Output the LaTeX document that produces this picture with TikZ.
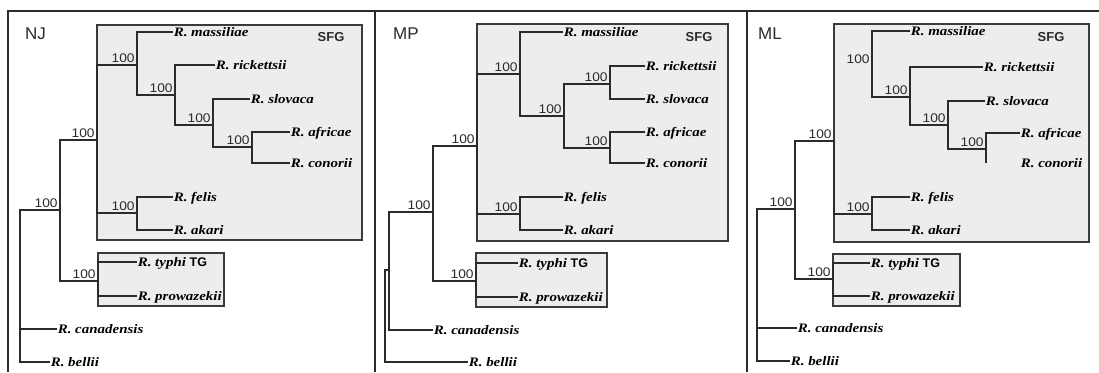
\documentclass[tikz,border=0pt]{standalone}
\usepackage{fontspec}
\setmainfont{Liberation Serif}
\newfontfamily\taxfam[FakeStretch=1.15]{Liberation Serif}
\newfontfamily\sansfam{Liberation Sans}
\newfontfamily\numfam[FakeStretch=1.1]{Liberation Sans}
\definecolor{ln}{HTML}{2B2B2B}
\definecolor{boxfill}{HTML}{EDEDED}
\definecolor{boxline}{HTML}{3A3A3A}
\newcommand{\tgmark}{{\sansfam\upshape\bfseries\fontsize{12.5}{14}\selectfont TG}}
\begin{document}
\begin{tikzpicture}[x=1pt,y=-1pt,
 br/.style={draw=ln, line width=1.1pt},
 frame/.style={draw=ln, line width=1.5pt},
 clade/.style={draw=boxline, fill=boxfill, line width=1.4pt},
 tip/.style={anchor=west, inner sep=0.6pt, font=\taxfam\bfseries\itshape\fontsize{13}{15}\selectfont, text height=8.6pt, text depth=0pt, text=black},
 bs/.style={anchor=south east, inner sep=2.2pt, font=\numfam\fontsize{12.5}{14}\selectfont, text depth=0pt, text=ln},
 meth/.style={anchor=west, inner sep=0pt, font=\sansfam\fontsize{17}{19}\selectfont, text height=12.2pt, text depth=0pt, text=ln},
 grp/.style={anchor=center, inner sep=0pt, font=\sansfam\bfseries\fontsize{13}{15}\selectfont, text height=9.3pt, text depth=0pt, text=ln}]
\useasboundingbox (0,0) rectangle (1099,372);
\fill[white] (0,0) rectangle (1099,372);
% frame
\draw[frame] (8,372) -- (8,11) -- (1099,11);
\draw[frame] (375,11) -- (375,372);
\draw[frame] (747,11) -- (747,372);

% ================= NJ =================
\draw[clade] (97,25) rectangle (362,240);
\draw[clade] (98,253) rectangle (224,306);
\node[meth] (njlab) at (25,33) {NJ};
\node[grp] (njsfg) at (331,37) {SFG};
\node[tip] (njmas) at (173,32) {R. massiliae};
\node[tip] (njric) at (215,65) {R. rickettsii};
\node[tip] (njslo) at (250,99) {R. slovaca};
\node[tip] (njafr) at (290,132) {R. africae};
\node[tip] (njcon) at (290,163) {R. conorii};
\node[tip] (njfel) at (173,197) {R. felis};
\node[tip] (njaka) at (173,230) {R. akari};
\node[tip] (njtyp) at (137,262) {R. typhi \tgmark};
\node[tip] (njpro) at (137,296) {R. prowazekii};
\node[tip] (njcan) at (57,329) {R. canadensis};
\node[tip] (njbel) at (50,362) {R. bellii};
\coordinate (njr) at (20,300);
\coordinate (nja) at (60,210);
\coordinate (njsf) at (97,140);
\coordinate (njb) at (137,65);
\coordinate (njc) at (175,95);
\coordinate (njd) at (213,125);
\coordinate (nje) at (252,147);
\coordinate (njf) at (137,213);
\coordinate (njtg) at (98,281);
\draw[br] (nja) -| (njr) |- (njbel.west);
\draw[br] (njr |- njcan.west) -- (njcan.west);
\draw[br] (njsf) -| (nja) |- (njtg);
\draw[br] (njb) -| (njsf) |- (njf);
\draw[br] (njmas.west) -| (njb) |- (njc);
\draw[br] (njric.west) -| (njc) |- (njd);
\draw[br] (njslo.west) -| (njd) |- (nje);
\draw[br] (njafr.west) -| (nje) |- (njcon.west);
\draw[br] (njfel.west) -| (njf) |- (njaka.west);
\draw[br] (njtyp.west) -| (njtg) |- (njpro.west);
\foreach \n in {nja,njsf,njb,njc,njd,nje,njf,njtg}
  \node[bs] (\n-bs) at (\n) {100};

% ================= MP =================
\draw[clade] (477,24) rectangle (728,241);
\draw[clade] (476,253) rectangle (607,307);
\node[meth] (mplab) at (393,33) {MP};
\node[grp] (mpsfg) at (699,37) {SFG};
\node[tip] (mpmas) at (563,32) {R. massiliae};
\node[tip] (mpric) at (645,66) {R. rickettsii};
\node[tip] (mpslo) at (645,99) {R. slovaca};
\node[tip] (mpafr) at (645,132) {R. africae};
\node[tip] (mpcon) at (645,163) {R. conorii};
\node[tip] (mpfel) at (563,197) {R. felis};
\node[tip] (mpaka) at (563,230) {R. akari};
\node[tip] (mptyp) at (518,263) {R. typhi \tgmark};
\node[tip] (mppro) at (518,297) {R. prowazekii};
\node[tip] (mpcan) at (433,330) {R. canadensis};
\node[tip] (mpbel) at (468,362) {R. bellii};
\coordinate (mpr) at (385,300);
\coordinate (mpa) at (389,270);
\coordinate (mpb) at (433,212);
\coordinate (mpsf) at (477,146);
\coordinate (mpc) at (520,74);
\coordinate (mpd) at (564,116);
\coordinate (mpe) at (610,84);
\coordinate (mpf) at (610,148);
\coordinate (mpg) at (520,214);
\coordinate (mptg) at (476,281);
\draw[br] (mpa) -| (mpr) |- (mpbel.west);
\draw[br] (mpb) -| (mpa) |- (mpcan.west);
\draw[br] (mpsf) -| (mpb) |- (mptg);
\draw[br] (mpc) -| (mpsf) |- (mpg);
\draw[br] (mpmas.west) -| (mpc) |- (mpd);
\draw[br] (mpe) -| (mpd) |- (mpf);
\draw[br] (mpric.west) -| (mpe) |- (mpslo.west);
\draw[br] (mpafr.west) -| (mpf) |- (mpcon.west);
\draw[br] (mpfel.west) -| (mpg) |- (mpaka.west);
\draw[br] (mptyp.west) -| (mptg) |- (mppro.west);
\foreach \n in {mpb,mpsf,mpc,mpd,mpe,mpf,mpg,mptg}
  \node[bs] (\n-bs) at (\n) {100};

% ================= ML =================
\draw[clade] (834,24) rectangle (1089,242);
\draw[clade] (833,254) rectangle (960,306);
\node[meth] (mllab) at (758,33) {ML};
\node[grp] (mlsfg) at (1051,37) {SFG};
\node[tip] (mlmas) at (910,31) {R. massiliae};
\node[tip] (mlric) at (983,67) {R. rickettsii};
\node[tip] (mlslo) at (985,101) {R. slovaca};
\node[tip] (mlafr) at (1020,133) {R. africae};
\node[tip] (mlcon) at (1020,163) {R. conorii};
\node[tip] (mlfel) at (910,197) {R. felis};
\node[tip] (mlaka) at (910,230) {R. akari};
\node[tip] (mltyp) at (870,263) {R. typhi \tgmark};
\node[tip] (mlpro) at (870,296) {R. prowazekii};
\node[tip] (mlcan) at (797,328) {R. canadensis};
\node[tip] (mlbel) at (790,361) {R. bellii};
\coordinate (mlr) at (757,300);
\coordinate (mla) at (795,209);
\coordinate (mlsf) at (834,141);
\coordinate (mlb) at (872,66);
\coordinate (mlc) at (910,97);
\coordinate (mld) at (948,125);
\coordinate (mle) at (986,149);
\coordinate (mlf) at (872,214);
\coordinate (mltg) at (833,279);
\draw[br] (mla) -| (mlr) |- (mlbel.west);
\draw[br] (mlr |- mlcan.west) -- (mlcan.west);
\draw[br] (mlsf) -| (mla) |- (mltg);
\draw[br] (mlsf) |- (mlf);
\draw[br] (mlmas.west) -| (mlb) |- (mlc);
\draw[br] (mlric.west) -| (mlc) |- (mld);
\draw[br] (mlslo.west) -| (mld) |- (mle);
\draw[br] (mlafr.west) -| (mle) -- (mle |- mlcon.west);
\draw[br] (mlfel.west) -| (mlf) |- (mlaka.west);
\draw[br] (mltyp.west) -| (mltg) |- (mlpro.west);
\foreach \n in {mla,mlsf,mlb,mlc,mld,mle,mlf,mltg}
  \node[bs] (\n-bs) at (\n) {100};
\end{tikzpicture}
\end{document}
